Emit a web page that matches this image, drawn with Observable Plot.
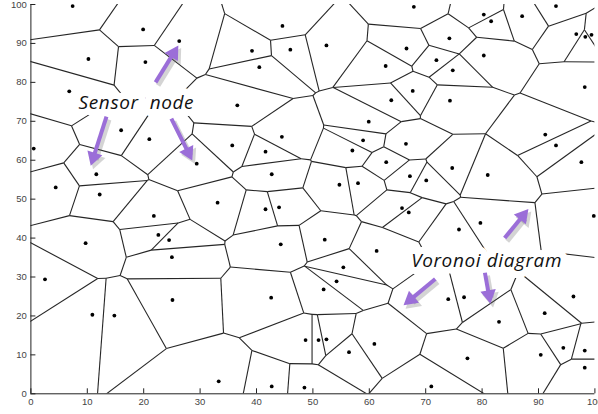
<!DOCTYPE html>
<html><head><meta charset="utf-8">
<script src="https://cdn.jsdelivr.net/npm/d3@7"></script>
<script src="https://cdn.jsdelivr.net/npm/@observablehq/plot@0.6"></script>
<style>
html,body{margin:0;padding:0;background:#fff;overflow:hidden}
g[aria-label="text"] text{letter-spacing:0.6px}
</style>
</head><body><div id="chart"></div>
<script>
// Sensor node positions
const nodeX = [7.4,19.9,26.3,10.2,20.3,6.8,16.0,21.0,44.6,39.2,46.0,52.4,40.5,62.9,66.6,36.6,63.9,59.9,44.5,58.9,
  67.9,93.1,80.3,81.6,87.1,96.7,98.3,99.4,74.2,80.3,71.9,74.8,67.7,98.2,74.3,91.2,0.5,29.4,11.6,4.4,
  12.2,21.8,22.6,24.5,9.7,25.0,35.7,41.6,57.0,66.5,63.0,42.7,54.7,58.0,33.1,41.6,44.0,65.8,67.0,52.1,
  44.3,61.3,55.4,93.1,97.6,74.7,81.0,67.2,70.1,99.8,79.7,75.9,2.5,10.9,14.8,25.1,54.2,51.9,42.6,48.7,
  51.0,52.4,56.4,60.9,33.3,42.7,48.5,74.0,76.8,83.0,91.1,96.2,77.4,90.4,94.4,98.2,98.2,71.0];
const nodeY = [99.6,93.6,90.6,86.0,85.2,77.7,67.7,65.4,94.5,88.1,88.4,89.5,83.9,84.2,88.7,74.1,75.4,69.9,66.0,65.1,
  99.4,99.6,97.4,95.7,97.0,92.4,91.7,92.2,91.3,86.9,85.7,83.1,77.8,78.8,75.3,66.6,63.0,59.1,56.4,53.0,
  51.2,45.7,40.8,39.5,38.7,35.1,63.8,62.2,62.5,64.2,59.5,56.4,53.7,54.1,49.1,47.4,47.9,47.7,46.6,39.6,
  38.4,36.7,32.5,63.8,59.5,58.0,56.2,55.9,54.8,45.7,43.9,42.2,29.4,20.3,20.1,24.1,28.9,26.8,24.7,13.8,
  13.8,14.0,10.7,12.8,3.2,1.9,1.6,24.3,24.8,18.5,20.7,25.0,9.1,10.0,11.8,11.1,6.7,1.9];

// Axis ticks
const tickValues = [0,10,20,30,40,50,60,70,80,90,100];

// Annotations
const noteText = ["Sensor  node", "Voronoi diagram"];
const noteX = [18.7, 80.8];
const noteY = [74.8, 34.1];
// arrows: start of shaft -> centre of arrow head
const arrowX1 = [22.1, 13.4, 24.9, 84.0, 71.7, 80.5];
const arrowY1 = [80.0, 71.2, 70.7, 40.0, 29.5, 31.1];
const arrowX2 = [25.3, 11.1, 27.9, 87.2, 67.3, 81.2];
const arrowY2 = [87.5, 60.8, 62.0, 45.7, 24.2, 25.4];

const W = 598, H = 414, ML = 30.4, MR = 3.6, MT = 4, MB = 20.7;
const kx = (W - ML - MR) / 100, ky = (H - MT - MB) / 100;

const nodes = nodeX.map((x, i) => ({x, y: nodeY[i]}));
const notes = noteText.map((t, i) => ({t, x: noteX[i], y: noteY[i]}));
const arrows = arrowX1.map((x1, i) => {
  const x2 = arrowX2[i], y2 = arrowY2[i], y1 = arrowY1[i];
  return {x1, y1, x2, y2, angle: Math.atan2((x2 - x1) * kx, (y2 - y1) * ky) * 180 / Math.PI};
});

// Voronoi diagram computed in data space (like MATLAB's voronoi)
const delaunay = d3.Delaunay.from(nodes, d => d.x, d => d.y);
const vor = delaunay.voronoi([-100, -100, 200, 200]);
const seen = new Set();
const edges = [];
for (const poly of vor.cellPolygons()) {
  for (let k = 0; k < poly.length - 1; k++) {
    const a = poly[k], b = poly[k + 1];
    const ka = a[0].toFixed(5) + "," + a[1].toFixed(5);
    const kb = b[0].toFixed(5) + "," + b[1].toFixed(5);
    const key = ka < kb ? ka + "|" + kb : kb + "|" + ka;
    if (seen.has(key)) continue;
    seen.add(key);
    edges.push({x1: a[0], y1: a[1], x2: b[0], y2: b[1]});
  }
}

const purple = "#9b6ed8";
const chart = Plot.plot({
  width: W, height: H,
  marginLeft: ML, marginRight: MR, marginTop: MT, marginBottom: MB,
  x: {domain: [0, 100]},
  y: {domain: [0, 100]},
  style: {fontFamily: "Liberation Sans, Arial, sans-serif", fontSize: "9.5px", color: "#333", background: "white", overflow: "visible"},
  marks: [
    Plot.link(edges, {x1: "x1", y1: "y1", x2: "x2", y2: "y2", stroke: "#262626", strokeWidth: 1.1, clip: true}),
    Plot.dot(nodes, {x: "x", y: "y", r: 1.9, fill: "black", stroke: null}),
    Plot.ruleX([0], {stroke: "#222"}),
    Plot.ruleY([0], {stroke: "#222"}),
    Plot.axisX(tickValues, {tickSize: -5, tickPadding: 9, label: null, fill: "#444", stroke: "#222"}),
    Plot.axisY(tickValues, {tickSize: -5, tickPadding: 9, label: null, fill: "#444", stroke: "#222"}),
    Plot.text(notes, {x: "x", y: "y", text: "t", fontSize: 19, fontStyle: "italic", fontFamily: "Open Sans, Lato, sans-serif", fill: "#111", stroke: "white", strokeWidth: 14}),
    // shadows
    Plot.link(arrows, {x1: "x1", y1: "y1", x2: "x2", y2: "y2", stroke: "#666", strokeOpacity: 0.28, strokeWidth: 5, dx: 2.5, dy: 3}),
    Plot.dot(arrows, {x: "x2", y: "y2", symbol: "triangle", r: 6.2, rotate: "angle", fill: "#666", fillOpacity: 0.28, stroke: null, dx: 2.5, dy: 3}),
    // arrows
    Plot.link(arrows, {x1: "x1", y1: "y1", x2: "x2", y2: "y2", stroke: purple, strokeWidth: 4}),
    Plot.dot(arrows, {x: "x2", y: "y2", symbol: "triangle", r: 5.8, rotate: "angle", fill: purple, stroke: null})
  ]
});
document.getElementById("chart").append(chart);
</script>
</body></html>
